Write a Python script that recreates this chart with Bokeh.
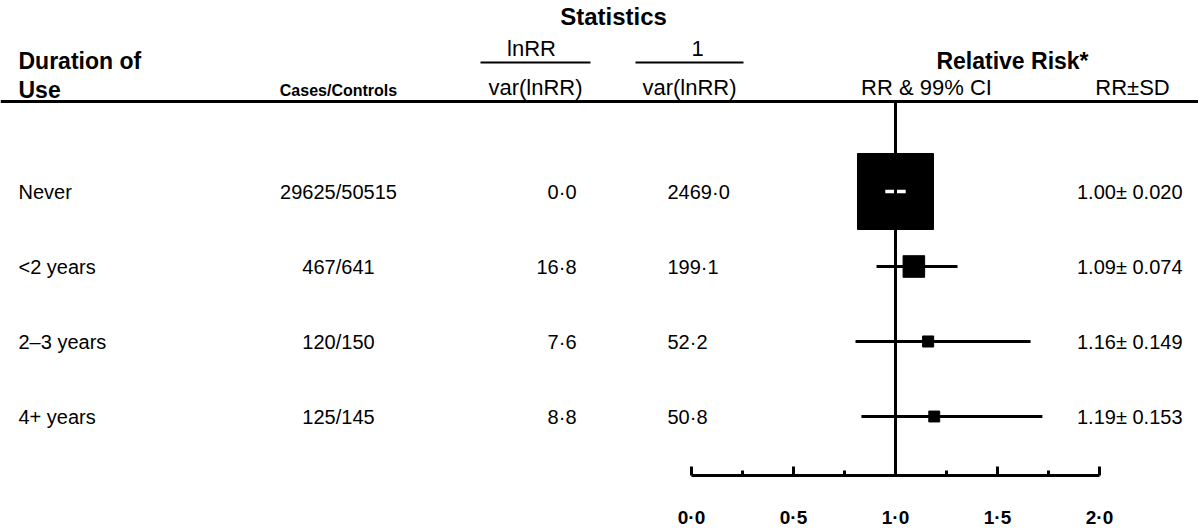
import math
from bokeh.plotting import figure
from bokeh.models import Range1d, LinearAxis, FixedTicker, ColumnDataSource
from bokeh.core.properties import value
from bokeh.embed import file_html
from bokeh.resources import INLINE

# ---------------- data ----------------
durations = ["Never", "<2 years", "2–3 years", "4+ years"]
cases_controls = ["29625/50515", "467/641", "120/150", "125/145"]
lnrr_over_var = [0.0, 16.8, 7.6, 8.8]
inv_var = [2469.0, 199.1, 52.2, 50.8]
rr = [1.00, 1.09, 1.16, 1.19]
rr_sd = [0.020, 0.074, 0.149, 0.153]
ci_low = [0.95, 0.907, 0.804, 0.833]
ci_high = [1.05, 1.304, 1.662, 1.72]
tick_values = [0.0, 0.5, 1.0, 1.5, 2.0]
tick_labels = ["0·0", "0·5", "1·0", "1·5", "2·0"]
minor_tick_values = [0.25, 0.75, 1.25, 1.75]

# ---------------- layout ----------------
FONT = "Liberation Sans"
W, FH = 1198, 475
X0 = 691      # px of RR = 0
PXU = 204     # px per RR unit
ROW0, ROWSTEP = 191, 75
BOX_K = 1.53  # box edge px per sqrt(weight)
BODY = 20
HEAD = 22

rows = list(range(len(durations)))

p = figure(frame_width=W, frame_height=FH,
           x_range=Range1d(-X0 / PXU, (W - X0) / PXU),
           y_range=Range1d((FH - ROW0) / ROWSTEP, -ROW0 / ROWSTEP),
           output_backend="svg", toolbar_location=None,
           x_axis_location=None, y_axis_location=None, min_border=0)
p.extra_x_ranges = {"px": Range1d(0, W)}
p.extra_y_ranges = {"py": Range1d(FH, 0)}
p.outline_line_color = None
p.grid.grid_line_color = None
p.background_fill_color = "white"
p.border_fill_color = "white"


def txt(x, y, s, size, bold=False, align="center"):
    p.text(x=[x], y=[y], text=[s], x_range_name="px", y_range_name="py",
           text_font=value(FONT), text_font_size=value(f"{size}px"),
           text_font_style="bold" if bold else "normal",
           text_align=align, text_baseline="middle", text_color="black")


# ---------------- header ----------------
txt(613, 16, "Statistics", 24, bold=True)
txt(18, 60, "Duration of", 23, bold=True, align="left")
txt(18, 89, "Use", 23, bold=True, align="left")
txt(338, 90, "Cases/Controls", 16, bold=True)
txt(531, 48, "lnRR", HEAD)
txt(697, 48, "1", HEAD)
txt(535, 87, "var(lnRR)", HEAD)
txt(689, 87, "var(lnRR)", HEAD)
txt(1012, 60, "Relative Risk*", 23, bold=True)
txt(926, 87, "RR & 99% CI", HEAD)
txt(1132, 87, "RR±SD", HEAD)
p.segment(x0=[480, 635], y0=[62, 62], x1=[590, 743], y1=[62, 62],
          x_range_name="px", y_range_name="py", line_color="black", line_width=2)
p.segment(x0=[0], y0=[101], x1=[W], y1=[101], x_range_name="px", y_range_name="py",
          line_color="black", line_width=3)

# ---------------- table rows ----------------
fmt = lambda v: f"{v:.1f}".replace(".", "·")
src = ColumnDataSource(dict(
    row=rows, dur=durations, cc=cases_controls,
    a=[fmt(v) for v in lnrr_over_var], b=[fmt(v) for v in inv_var],
    rs=[f"{r:.2f}± {s:.3f}" for r, s in zip(rr, rr_sd)],
    x_dur=[18] * 4, x_cc=[338] * 4, x_a=[576] * 4, x_b=[667] * 4, x_rs=[1182] * 4,
))
for col, xcol, align in [("dur", "x_dur", "left"), ("cc", "x_cc", "center"),
                         ("a", "x_a", "right"), ("b", "x_b", "left"), ("rs", "x_rs", "right")]:
    p.text(x=xcol, y="row", text=col, source=src, x_range_name="px",
           text_font=value(FONT), text_font_size=value(f"{BODY}px"),
           text_align=align, text_baseline="middle", text_color="black")

# ---------------- forest plot ----------------
box_size = [BOX_K * math.sqrt(w) for w in inv_var]
fsrc = ColumnDataSource(dict(row=rows, rr=rr, lo=ci_low, hi=ci_high, size=box_size))
p.segment(x0="lo", y0="row", x1="hi", y1="row", source=fsrc, line_color="black", line_width=3)
p.scatter(x="rr", y="row", size="size", marker="square", source=fsrc,
          fill_color="black", line_color="black")
# CI fully inside its box is drawn in white
inside = [i for i in rows if (ci_high[i] - ci_low[i]) * PXU < box_size[i]]
p.segment(x0=[ci_low[i] for i in inside], y0=inside, x1=[ci_high[i] for i in inside], y1=inside,
          line_color="white", line_width=3.5)
# reference line at RR = 1
p.segment(x0=[1.0], y0=[101], x1=[1.0], y1=[FH], y_range_name="py",
          line_color="black", line_width=3)

ax = LinearAxis(bounds=(0, 2),
                ticker=FixedTicker(ticks=tick_values, minor_ticks=minor_tick_values),
                major_label_overrides={v: l for v, l in zip(tick_values, tick_labels)},
                axis_line_width=3, axis_line_color="black",
                major_tick_in=9, major_tick_out=0, major_tick_line_width=3,
                minor_tick_in=5, minor_tick_out=0, minor_tick_line_width=3,
                major_label_standoff=31,
                major_label_text_font=FONT, major_label_text_font_size="19px",
                major_label_text_font_style="bold", major_label_text_color="black")
p.add_layout(ax, "below")

open("out.html", "w").write(file_html(p, INLINE))
